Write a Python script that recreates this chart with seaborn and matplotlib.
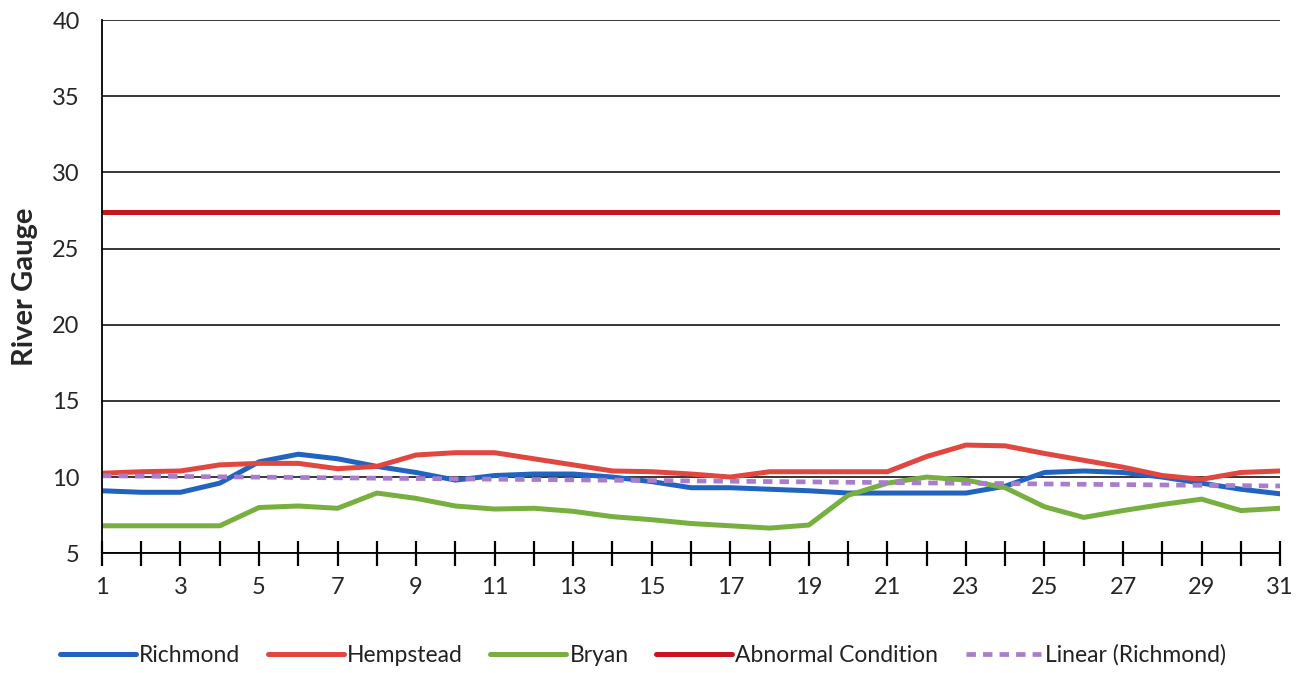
import numpy as np
import pandas as pd
import matplotlib
matplotlib.use("Agg")
import matplotlib.pyplot as plt
import seaborn as sns

# daily river gauge readings, days 1..31
days = list(range(1, 32))
richmond = [9.1, 9.0, 9.0, 9.6, 11.0, 11.5, 11.2, 10.7, 10.3, 9.8,
            10.1, 10.2, 10.2, 10.0, 9.7, 9.3, 9.3, 9.2, 9.1, 8.95,
            8.95, 8.95, 8.95, 9.4, 10.3, 10.4, 10.3, 10.0, 9.6, 9.2, 8.9]
hempstead = [10.25, 10.35, 10.4, 10.8, 10.9, 10.9, 10.55, 10.7, 11.45, 11.6,
             11.6, 11.2, 10.8, 10.4, 10.35, 10.2, 10.0, 10.35, 10.35, 10.35,
             10.35, 11.35, 12.1, 12.05, 11.55, 11.1, 10.65, 10.1, 9.85, 10.3, 10.4]
bryan = [6.8, 6.8, 6.8, 6.8, 8.0, 8.1, 7.95, 8.95, 8.6, 8.1,
         7.9, 7.95, 7.75, 7.4, 7.2, 6.95, 6.8, 6.65, 6.85, 8.8,
         9.6, 10.0, 9.8, 9.3, 8.05, 7.35, 7.8, 8.2, 8.55, 7.8, 7.95]
abnormal = [27.4] * 31

df = pd.DataFrame({"day": days, "Richmond": richmond, "Hempstead": hempstead,
                   "Bryan": bryan, "Abnormal Condition": abnormal})

# Excel style linear trendline for Richmond
coef = np.polyfit(df["day"], df["Richmond"], 1)
df["Linear (Richmond)"] = np.polyval(coef, df["day"])

sns.set_style("white")
plt.rcParams["font.family"] = ["Lato", "DejaVu Sans"]

fig = plt.figure(figsize=(13.12, 6.73), dpi=100)
ax = fig.add_axes([0.0777, 0.178, 0.898, 0.792])

colors = {"Richmond": "#2163c0", "Hempstead": "#e2473f", "Bryan": "#78b040",
          "Abnormal Condition": "#c4161c"}
for name, col in colors.items():
    sns.lineplot(data=df, x="day", y=name, ax=ax, color=col, lw=3.6, label=name)
sns.lineplot(data=df, x="day", y="Linear (Richmond)", ax=ax, color="#a97dcc",
             lw=3.4, linestyle=(0, (2.0, 1.5)), label="Linear (Richmond)")

ax.set_xlim(1, 31)
ax.set_ylim(5, 40)
ax.set_yticks(range(5, 41, 5))
ax.set_xticks(days)
ax.set_xticklabels([str(d) if d % 2 == 1 else "" for d in days])
ax.yaxis.grid(True, color="black", lw=1.1)
ax.xaxis.grid(False)
ax.set_axisbelow(True)
for s in ["top", "right"]:
    ax.spines[s].set_visible(False)
for s in ["left", "bottom"]:
    ax.spines[s].set_color("black")
    ax.spines[s].set_linewidth(1.3)

ax.tick_params(axis="x", direction="inout", length=18, width=1.6, color="black",
               pad=8, labelsize=17, bottom=True)
ax.tick_params(axis="y", length=0, pad=16, labelsize=17)
ax.set_xlabel("")
ax.set_ylabel("River Gauge", fontsize=21, fontweight="bold", labelpad=10)

handles, labels = ax.get_legend_handles_labels()
ax.legend_.remove()
fig.legend(handles, labels, loc="center", bbox_to_anchor=(0.49, 0.027), ncol=5,
           frameon=False, fontsize=16.5, handlelength=3.3, handletextpad=0.15,
           columnspacing=1.2, labelcolor="#222222")

fig.savefig("out.png", dpi=100)
